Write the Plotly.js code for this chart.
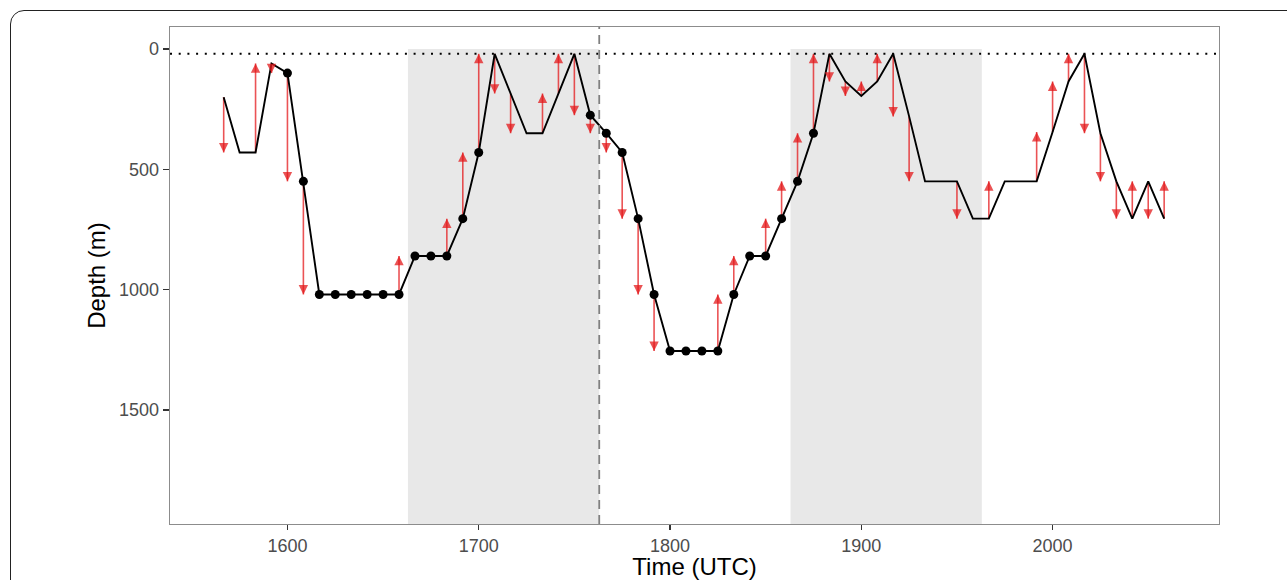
<!DOCTYPE html>
<html>
<head>
<meta charset="utf-8">
<script src="https://cdn.plot.ly/plotly-3.0.1.min.js"></script>
<style>
  html, body { margin: 0; padding: 0; background: #ffffff; overflow: hidden; }
  #wrap { position: relative; width: 1287px; height: 580px; }
  #chart { position: absolute; left: 0; top: 0; width: 1287px; height: 580px; }
  #frame { position: absolute; left: 10px; top: 10px; width: 1400px; height: 700px;
           border: 1.3px solid #222; border-radius: 14px; pointer-events: none; z-index: 10; }
</style>
</head>
<body>
<div id="wrap">
  <div id="chart"></div>
  <div id="frame"></div>
</div>
<script>
// Time (UTC) in decimal-hour x100 units, 5-minute steps
const times = [
  1566.67, 1575, 1583.33, 1591.67, 1600, 1608.33, 1616.67, 1625, 1633.33, 1641.67,
  1650, 1658.33, 1666.67, 1675, 1683.33, 1691.67, 1700, 1708.33, 1716.67, 1725,
  1733.33, 1741.67, 1750, 1758.33, 1766.67, 1775, 1783.33, 1791.67, 1800, 1808.33,
  1816.67, 1825, 1833.33, 1841.67, 1850, 1858.33, 1866.67, 1875, 1883.33, 1891.67,
  1900, 1908.33, 1916.67, 1925, 1933.33, 1941.67, 1950, 1958.33, 1966.67, 1975,
  1983.33, 1991.67, 2000, 2008.33, 2016.67, 2025, 2033.33, 2041.67, 2050, 2058.33
];
// Depth (m) at each time
const depths = [
  200, 430, 430, 60, 100, 550, 1020, 1020, 1020, 1020,
  1020, 1020, 860, 860, 860, 705, 430, 20, 185, 350,
  350, 185, 20, 275, 350, 430, 705, 1020, 1255, 1255,
  1255, 1255, 1020, 860, 860, 705, 550, 350, 20, 135,
  195, 135, 20, 280, 550, 550, 550, 705, 705, 550,
  550, 550, 345, 135, 20, 350, 550, 705, 550, 705
];
// Depth following the last record (target of the final arrow)
const depthAfterLast = 550;
// Records drawn with a black dot (1 = dot)
const marked = [
  0, 0, 0, 0, 1, 1, 1, 1, 1, 1,
  1, 1, 1, 1, 1, 1, 1, 0, 0, 0,
  0, 0, 0, 1, 1, 1, 1, 1, 1, 1,
  1, 1, 1, 1, 1, 1, 1, 1, 0, 0,
  0, 0, 0, 0, 0, 0, 0, 0, 0, 0,
  0, 0, 0, 0, 0, 0, 0, 0, 0, 0
];
// Shaded periods (start, end) and reference lines
const shadeStart = [1663, 1863];
const shadeEnd = [1763, 1963];
const dashedTime = 1763;
const surfaceDepth = 20;
const xTicks = [1600, 1700, 1800, 1900, 2000];
const yTicks = [0, 500, 1000, 1500];

const xRange = [1538.6, 2087];
const yRange = [1974, -91.5];

const arrowColor = 'rgba(228,26,28,0.75)';
const font = 'Liberation Sans, Arial, Helvetica, sans-serif';

// Arrow shafts: from depth at t_i to depth at t_{i+1}
const nextDepths = depths.slice(1).concat([depthAfterLast]);
const shaftX = [], shaftY = [];
const annotations = [];
for (let i = 0; i < times.length; i++) {
  const d0 = depths[i], d1 = nextDepths[i];
  if (d0 === d1) continue;
  shaftX.push(times[i], times[i], null);
  shaftY.push(d0, d1, null);
  annotations.push({
    x: times[i], y: d1, xref: 'x', yref: 'y',
    ax: 0, ay: (d1 > d0) ? -8 : 8, axref: 'pixel', ayref: 'pixel',
    text: '', showarrow: true, arrowhead: 2, arrowsize: 1.25, arrowwidth: 1.5,
    arrowcolor: arrowColor, standoff: 0, startstandoff: 0
  });
}

const dotX = times.filter((t, i) => marked[i] === 1);
const dotY = depths.filter((d, i) => marked[i] === 1);

const traces = [
  { x: shaftX, y: shaftY, mode: 'lines', connectgaps: false,
    line: { color: arrowColor, width: 1.6 }, hoverinfo: 'skip', showlegend: false },
  { x: times, y: depths, mode: 'lines', line: { color: '#000000', width: 1.9 },
    showlegend: false },
  { x: dotX, y: dotY, mode: 'markers', marker: { color: '#000000', size: 9 },
    showlegend: false }
];

const shapes = [];
for (let k = 0; k < shadeStart.length; k++) {
  shapes.push({ type: 'rect', xref: 'x', yref: 'y', x0: shadeStart[k], x1: shadeEnd[k],
    y0: 0, y1: yRange[0], fillcolor: '#e8e8e8', line: { width: 0 }, layer: 'below' });
}
shapes.push({ type: 'line', xref: 'paper', yref: 'y', x0: 0, x1: 1, y0: surfaceDepth, y1: surfaceDepth,
  line: { color: '#000000', width: 2, dash: '2px,6.7px' }, layer: 'above' });
shapes.push({ type: 'line', xref: 'x', yref: 'paper', x0: dashedTime, x1: dashedTime, y0: 0, y1: 1,
  line: { color: '#808080', width: 1.8, dash: '9px,6px' }, layer: 'above' });

const layout = {
  width: 1287, height: 580,
  margin: { l: 170, r: 68, t: 27, b: 56 },
  paper_bgcolor: '#ffffff', plot_bgcolor: '#ffffff',
  font: { family: font, color: '#4d4d4d' },
  showlegend: false,
  xaxis: {
    range: xRange, tickvals: xTicks, ticktext: xTicks.map(String),
    showgrid: false, zeroline: false, showline: true, mirror: true,
    linecolor: '#8c8c8c', linewidth: 1.3,
    ticks: 'outside', ticklen: 5, tickwidth: 1.1, tickcolor: '#333333',
    tickfont: { size: 18, color: '#4d4d4d', family: font },
    title: { text: 'Time (UTC)', font: { size: 24, color: '#000000', family: font }, standoff: 3 }
  },
  yaxis: {
    range: yRange, tickvals: yTicks, ticktext: yTicks.map(String),
    showgrid: false, zeroline: false, showline: true, mirror: true,
    linecolor: '#8c8c8c', linewidth: 1.3,
    ticks: 'outside', ticklen: 6, tickwidth: 1.1, tickcolor: '#333333',
    tickfont: { size: 18, color: '#4d4d4d', family: font },
    title: { text: 'Depth (m)', font: { size: 24, color: '#000000', family: font }, standoff: 6 }
  },
  shapes: shapes,
  annotations: annotations
};

Plotly.newPlot('chart', traces, layout, { displayModeBar: false, staticPlot: true });
</script>
</body>
</html>
